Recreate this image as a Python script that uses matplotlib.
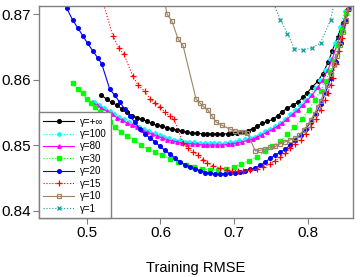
import matplotlib
matplotlib.use("Agg")
import matplotlib.pyplot as plt

plt.rcParams['font.family'] = ['Liberation Sans', 'DejaVu Sans']

# ---------------- data ----------------
labels = ["γ=+∞", "γ=100", "γ=80", "γ=30", "γ=20", "γ=15", "γ=10", "γ=1"]

inf_x = [0.520, 0.527, 0.534, 0.541, 0.548, 0.554, 0.561, 0.568, 0.575, 0.582,
         0.588, 0.595, 0.602, 0.609, 0.616, 0.622, 0.629, 0.636, 0.643, 0.650,
         0.657, 0.663, 0.670, 0.677, 0.684, 0.691, 0.697, 0.704, 0.711, 0.718,
         0.725, 0.731, 0.738, 0.745, 0.752, 0.759, 0.765, 0.772, 0.779, 0.786,
         0.793, 0.799, 0.806, 0.813, 0.820, 0.827, 0.833, 0.840, 0.847, 0.854]
inf_y = [0.8576, 0.8570, 0.8565, 0.8561, 0.8555, 0.8550, 0.8545, 0.8542, 0.8539, 0.8536,
         0.8533, 0.8530, 0.8529, 0.8526, 0.8524, 0.8523, 0.8521, 0.8520, 0.8518, 0.8518,
         0.8517, 0.8517, 0.8517, 0.8517, 0.8517, 0.8517, 0.8518, 0.8519, 0.8520, 0.8522,
         0.8525, 0.8529, 0.8533, 0.8536, 0.8539, 0.8545, 0.8551, 0.8556, 0.8561, 0.8565,
         0.8573, 0.8580, 0.8589, 0.8597, 0.8609, 0.8626, 0.8644, 0.8665, 0.8686, 0.8708]

g100_x = [0.510, 0.517, 0.524, 0.531, 0.537, 0.544, 0.551, 0.558, 0.565, 0.571,
          0.578, 0.585, 0.592, 0.599, 0.605, 0.612, 0.619, 0.626, 0.633, 0.639,
          0.646, 0.653, 0.660, 0.667, 0.673, 0.680, 0.687, 0.694, 0.701, 0.707,
          0.714, 0.721, 0.728, 0.735, 0.741, 0.748, 0.755, 0.762, 0.769, 0.775,
          0.782, 0.789, 0.796, 0.803, 0.809, 0.816, 0.823, 0.830, 0.837, 0.843, 0.850]
g100_y = [0.8566, 0.8561, 0.8557, 0.8552, 0.8547, 0.8543, 0.8539, 0.8535, 0.8531, 0.8528,
          0.8524, 0.8521, 0.8518, 0.8515, 0.8512, 0.8510, 0.8508, 0.8507, 0.8505, 0.8504,
          0.8504, 0.8503, 0.8503, 0.8503, 0.8503, 0.8503, 0.8503, 0.8504, 0.8505, 0.8507,
          0.8509, 0.8511, 0.8513, 0.8517, 0.8521, 0.8525, 0.8529, 0.8534, 0.8540, 0.8547,
          0.8554, 0.8561, 0.8568, 0.8577, 0.8587, 0.8600, 0.8614, 0.8632, 0.8655, 0.8680, 0.8705]

g80_x = [0.507, 0.514, 0.520, 0.527, 0.534, 0.541, 0.548, 0.554, 0.561, 0.568,
         0.575, 0.582, 0.588, 0.595, 0.602, 0.609, 0.616, 0.622, 0.629, 0.636,
         0.643, 0.650, 0.657, 0.663, 0.670, 0.677, 0.684, 0.691, 0.697, 0.704,
         0.711, 0.718, 0.725, 0.731, 0.738, 0.745, 0.752, 0.759, 0.765, 0.772,
         0.779, 0.786, 0.793, 0.799, 0.806, 0.813, 0.820, 0.827, 0.833, 0.840, 0.847, 0.854]
g80_y = [0.8565, 0.8561, 0.8556, 0.8552, 0.8547, 0.8542, 0.8538, 0.8534, 0.8530, 0.8527,
         0.8523, 0.8520, 0.8517, 0.8514, 0.8511, 0.8508, 0.8506, 0.8505, 0.8503, 0.8502,
         0.8502, 0.8501, 0.8500, 0.8500, 0.8500, 0.8500, 0.8500, 0.8501, 0.8502, 0.8503,
         0.8505, 0.8507, 0.8509, 0.8512, 0.8516, 0.8520, 0.8524, 0.8529, 0.8533, 0.8540,
         0.8547, 0.8553, 0.8561, 0.8568, 0.8577, 0.8588, 0.8600, 0.8615, 0.8632, 0.8656, 0.8682, 0.8708]

g30_x = [0.4810, 0.4878, 0.4946, 0.5000, 0.5054, 0.5109, 0.5177, 0.5245, 0.5313, 0.5381,
         0.5463, 0.5544, 0.5639, 0.5735, 0.5830, 0.5925, 0.6020, 0.6129, 0.6238, 0.6347,
         0.6456, 0.6565, 0.6673, 0.6782, 0.6891, 0.7000, 0.7095, 0.7204, 0.7313, 0.7422,
         0.7517, 0.7626, 0.7721, 0.7816, 0.7912, 0.8007, 0.8088, 0.8170, 0.8238, 0.8293,
         0.8347, 0.8401, 0.8456, 0.8510]
g30_y = [0.8594, 0.8585, 0.8579, 0.8571, 0.8564, 0.8558, 0.8550, 0.8542, 0.8535, 0.8527,
         0.8520, 0.8514, 0.8508, 0.8500, 0.8494, 0.8489, 0.8485, 0.8479, 0.8474, 0.8470,
         0.8467, 0.8464, 0.8462, 0.8462, 0.8464, 0.8467, 0.8471, 0.8476, 0.8482, 0.8491,
         0.8498, 0.8506, 0.8517, 0.8527, 0.8539, 0.8553, 0.8568, 0.8583, 0.8598, 0.8612,
         0.8629, 0.8652, 0.8676, 0.8702]

g20_x = [0.4728, 0.4810, 0.4878, 0.4946, 0.5014, 0.5082, 0.5150, 0.5204, 0.5313, 0.5381,
         0.5449, 0.5517, 0.5585, 0.5653, 0.5721, 0.5789, 0.5857, 0.5925, 0.5993, 0.6061,
         0.6129, 0.6197, 0.6265, 0.6333, 0.6401, 0.6469, 0.6537, 0.6605, 0.6673, 0.6741,
         0.6810, 0.6878, 0.6946, 0.7014, 0.7082, 0.7150, 0.7218, 0.7286, 0.7354, 0.7422,
         0.7490, 0.7558, 0.7626, 0.7694, 0.7762, 0.7830, 0.7898, 0.7966, 0.8034, 0.8102,
         0.8170, 0.8238, 0.8306, 0.8374, 0.8442, 0.8510, 0.8551]
g20_y = [0.8709, 0.8691, 0.8679, 0.8667, 0.8655, 0.8644, 0.8633, 0.8624, 0.8585, 0.8576,
         0.8565, 0.8555, 0.8544, 0.8535, 0.8524, 0.8517, 0.8511, 0.8505, 0.8498, 0.8492,
         0.8486, 0.8480, 0.8474, 0.8470, 0.8467, 0.8464, 0.8461, 0.8458, 0.8457, 0.8456,
         0.8456, 0.8456, 0.8458, 0.8458, 0.8459, 0.8461, 0.8463, 0.8465, 0.8469, 0.8474,
         0.8480, 0.8485, 0.8489, 0.8494, 0.8500, 0.8508, 0.8515, 0.8524, 0.8535, 0.8547,
         0.8562, 0.8580, 0.8602, 0.8626, 0.8656, 0.8689, 0.8708]

g15_x = [0.5177, 0.5354, 0.5435, 0.5503, 0.5626, 0.5694, 0.5789, 0.5857, 0.5925, 0.5993,
         0.6061, 0.6129, 0.6184, 0.6306, 0.6374, 0.6442, 0.6510, 0.6578, 0.6633, 0.6714,
         0.6810, 0.6905, 0.6973, 0.7054, 0.7122, 0.7218, 0.7313, 0.7395, 0.7490, 0.7558,
         0.7626, 0.7694, 0.7762, 0.7830, 0.7898, 0.7966, 0.8034, 0.8102, 0.8170, 0.8224,
         0.8265, 0.8306, 0.8333, 0.8374, 0.8415, 0.8456, 0.8497, 0.8537]
g15_y = [0.8735, 0.8667, 0.8648, 0.8639, 0.8605, 0.8592, 0.8582, 0.8571, 0.8564, 0.8558,
         0.8550, 0.8544, 0.8539, 0.8503, 0.8495, 0.8489, 0.8485, 0.8477, 0.8473, 0.8468,
         0.8465, 0.8462, 0.8461, 0.8461, 0.8461, 0.8462, 0.8464, 0.8467, 0.8471, 0.8476,
         0.8482, 0.8488, 0.8495, 0.8502, 0.8508, 0.8517, 0.8527, 0.8539, 0.8553, 0.8568,
         0.8579, 0.8592, 0.8603, 0.8624, 0.8644, 0.8664, 0.8686, 0.8708]

g10_x = [0.6034, 0.6088, 0.6156, 0.6238, 0.6306, 0.6483, 0.6537, 0.6578, 0.6646, 0.6701,
         0.6755, 0.6837, 0.6946, 0.7014, 0.7082, 0.7136, 0.7177, 0.7286, 0.7354, 0.7422,
         0.7490, 0.7558, 0.7626, 0.7694, 0.7762, 0.7830, 0.7884, 0.7939, 0.7993, 0.8034,
         0.8088, 0.8129, 0.8170, 0.8211, 0.8252, 0.8306, 0.8347, 0.8388, 0.8429, 0.8469,
         0.8510, 0.8551]
g10_y = [0.8735, 0.8700, 0.8689, 0.8662, 0.8652, 0.8570, 0.8564, 0.8559, 0.8553, 0.8544,
         0.8535, 0.8530, 0.8524, 0.8521, 0.8520, 0.8520, 0.8518, 0.8491, 0.8492, 0.8494,
         0.8497, 0.8498, 0.8502, 0.8505, 0.8508, 0.8511, 0.8515, 0.8523, 0.8530, 0.8538,
         0.8548, 0.8558, 0.8567, 0.8579, 0.8591, 0.8609, 0.8623, 0.8636, 0.8653, 0.8673,
         0.8691, 0.8709]

g1_x = [0.7463, 0.7626, 0.7721, 0.7816, 0.7925, 0.8048, 0.8170, 0.8306, 0.8388]
g1_y = [0.8735, 0.8691, 0.8670, 0.8647, 0.8645, 0.8648, 0.8656, 0.8691, 0.8735]

x_ticks = [0.5, 0.6, 0.7, 0.8]
x_tick_labels = ["0.5", "0.6", "0.7", "0.8"]
y_ticks = [0.84, 0.85, 0.86, 0.87]
y_tick_labels = ["0.84", "0.85", "0.86", "0.87"]
x_label = "Training RMSE"

# ---------------- plot ----------------
fig = plt.figure(figsize=(3.6, 2.77), dpi=100)
ax = fig.add_axes([0.1083, 0.2130, 0.8722, 0.7653])

series = [
    (inf_x, inf_y, dict(color="black", ls="-", marker="o", ms=2.6)),
    (g100_x, g100_y, dict(color="#00FFFF", ls=":", marker="D", ms=2.1)),
    (g80_x, g80_y, dict(color="#FF00FF", ls="-", marker="^", ms=2.5)),
    (g30_x, g30_y, dict(color="#00FF00", ls=":", marker="s", ms=2.4)),
    (g20_x, g20_y, dict(color="#0000FF", ls="-", marker="o", ms=2.6)),
    (g15_x, g15_y, dict(color="#FF0000", ls=":", marker="+", ms=4.2, mew=0.9)),
    (g10_x, g10_y, dict(color="#9C8567", ls="-", marker="s", ms=2.8, mfc="none", mew=0.9)),
    (g1_x, g1_y, dict(color="#129A9A", ls=":", marker="x", ms=3.0, mew=0.9)),
]
for (xs, ys, st), lab in zip(series, labels):
    ax.plot(xs, ys, lw=0.8, label=lab, **st)

ax.set_xlim(0.4354, 0.8609)
ax.set_ylim(0.83886, 0.87122)
ax.set_xticks(x_ticks)
ax.set_xticklabels(x_tick_labels)
ax.set_yticks(y_ticks)
ax.set_yticklabels(y_tick_labels)
ax.tick_params(direction="out", length=4, width=0.8, color="#808080",
               labelsize=11, pad=2)
for sp in ax.spines.values():
    sp.set_color("#808080")
    sp.set_linewidth(1.0)
ax.set_xlabel(x_label, fontsize=10.5, labelpad=15)

leg = ax.legend(loc="lower left", bbox_to_anchor=(0, 0), borderaxespad=0,
                fontsize=7, numpoints=1, handlelength=3.2, handletextpad=0.6,
                labelspacing=0.25, borderpad=0.45, fancybox=False, framealpha=1,
                edgecolor="#808080")
leg.get_frame().set_linewidth(1.0)

fig.savefig("out.png", dpi=100)
